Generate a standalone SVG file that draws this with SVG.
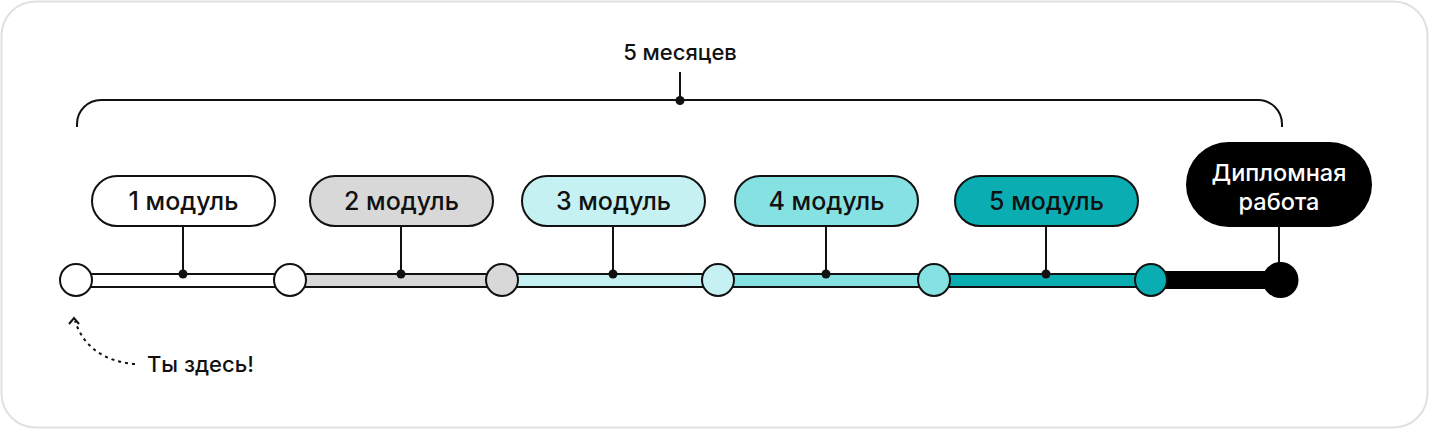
<svg xmlns="http://www.w3.org/2000/svg" width="1429" height="429" viewBox="0 0 1429 429">
<style>
.t{font-family:Inter,"Noto Sans","Liberation Sans",sans-serif;font-weight:500;font-size:22px;fill:#111;text-anchor:middle}
.b{font-size:25px}
.d{font-size:23.5px;fill:#fff}
.pill{stroke:#111;stroke-width:2}
.bar{stroke:#111;stroke-width:2}
.ln{stroke:#111;stroke-width:2;fill:none}
.dot{fill:#111}
.node{stroke:#111;stroke-width:2}
</style>
<rect x="1.5" y="1.5" width="1426" height="426" rx="34" fill="#fff" stroke="#e0e0e0" stroke-width="2"/>
<g id="span">
<text class="t" x="680" y="60">5 месяцев</text>
<path class="ln" d="M77 127 V124 A24 24 0 0 1 101 100 H1258 A24 24 0 0 1 1282 124 V127"/>
<line class="ln" x1="680" y1="72" x2="680" y2="100"/>
<circle class="dot" cx="680" cy="100.5" r="4.5"/>
</g>
<g id="connectors">
<rect class="bar" x="76" y="274" width="214" height="13" fill="#fff"/>
<rect class="bar" x="290" y="274" width="212" height="13" fill="#d8d8d8"/>
<rect class="bar" x="502" y="274" width="216" height="13" fill="#c6f1f2"/>
<rect class="bar" x="718" y="274" width="216" height="13" fill="#86e1e3"/>
<rect class="bar" x="934" y="274" width="217" height="13" fill="#0aadb1"/>
<rect x="1151" y="271" width="129" height="18" fill="#000"/>
<line class="ln" x1="183" y1="226" x2="183" y2="274"/>
<line class="ln" x1="401" y1="226" x2="401" y2="274"/>
<line class="ln" x1="613" y1="226" x2="613" y2="274"/>
<line class="ln" x1="826" y1="226" x2="826" y2="274"/>
<line class="ln" x1="1046" y1="226" x2="1046" y2="274"/>
<line class="ln" x1="1279" y1="227" x2="1279" y2="270"/>
<circle class="dot" cx="183" cy="274" r="4.5"/>
<circle class="dot" cx="401" cy="274" r="4.5"/>
<circle class="dot" cx="613" cy="274" r="4.5"/>
<circle class="dot" cx="826" cy="274" r="4.5"/>
<circle class="dot" cx="1046" cy="274" r="4.5"/>
<path d="M135 364 Q88 360 75 321" fill="none" stroke="#111" stroke-width="2" stroke-dasharray="3 4"/>
<path d="M69 324 L74 318 L79 324" fill="none" stroke="#111" stroke-width="2"/>
</g>
<g id="points">
<circle class="node" cx="76" cy="280" r="16" fill="#fff"/>
<circle class="node" cx="290" cy="280" r="16" fill="#fff"/>
<circle class="node" cx="502" cy="280" r="16" fill="#d8d8d8"/>
<circle class="node" cx="718" cy="280" r="16" fill="#c6f1f2"/>
<circle class="node" cx="934" cy="280" r="16" fill="#86e1e3"/>
<circle class="node" cx="1151" cy="280" r="16" fill="#0aadb1"/>
<circle cx="1280.5" cy="280" r="18" fill="#000"/>
</g>
<g id="m1"><rect class="pill" x="92" y="176" width="183" height="50" rx="25" fill="#fff"/><text class="t b" x="183.5" y="210">1 модуль</text></g>
<g id="m2"><rect class="pill" x="310" y="176" width="183" height="50" rx="25" fill="#d8d8d8"/><text class="t b" x="401.5" y="210">2 модуль</text></g>
<g id="m3"><rect class="pill" x="522" y="176" width="183" height="50" rx="25" fill="#c6f1f2"/><text class="t b" x="613.5" y="210">3 модуль</text></g>
<g id="m4"><rect class="pill" x="735" y="176" width="183" height="50" rx="25" fill="#86e1e3"/><text class="t b" x="826.5" y="210">4 модуль</text></g>
<g id="m5"><rect class="pill" x="955" y="176" width="183" height="50" rx="25" fill="#0aadb1"/><text class="t b" x="1046.5" y="210">5 модуль</text></g>
<g id="diploma"><rect x="1186" y="142" width="186" height="85" rx="42.5" fill="#000"/><text class="t d" x="1279" y="181">Дипломная</text><text class="t d" x="1279" y="209.5">работа</text></g>
<g id="here"><text class="t" x="147" y="372" style="text-anchor:start">Ты здесь!</text></g>
</svg>
